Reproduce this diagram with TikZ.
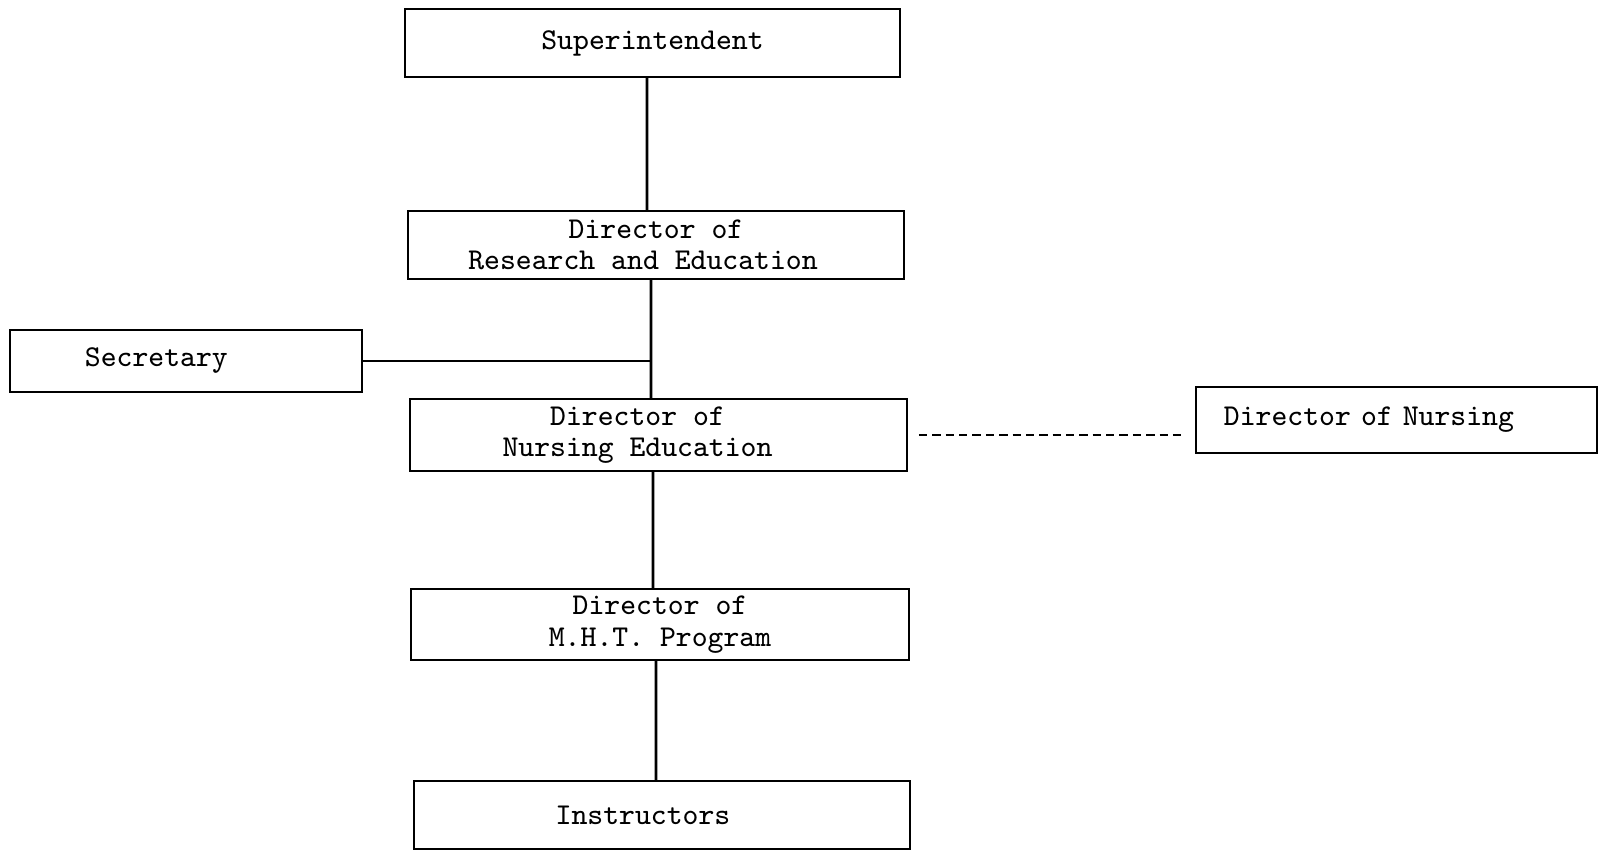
\documentclass[tikz,border=0pt]{standalone}
\usepackage{tikz}

\begin{document}
\begin{tikzpicture}[x=0.01cm,y=-0.01cm,
  box/.style={draw,line width=0.45pt,inner sep=0pt,align=center,
    font=\ttfamily\fontsize{8.6}{9}\selectfont},
  link/.style={line width=0.75pt}]
\useasboundingbox (0,0) rectangle (1604,851);
\node[box,minimum width=4.95cm,minimum height=0.68cm] (sup) at (652.5,43) {Superintendent};
\node[box,minimum width=4.96cm,minimum height=0.68cm] (res) at (656,245) {Director of\\\hspace*{-0.26cm}Research and Education};
\node[box,minimum width=3.52cm,minimum height=0.62cm,text width=2.02cm,align=left,inner xsep=0.75cm] (sec) at (186,361) {Secretary};
\node[box,minimum width=4.97cm,minimum height=0.72cm] (nur) at (658.5,435) {\hspace*{-0.42cm}Director of\\\hspace*{-0.42cm}Nursing Education};
\node[box,minimum width=4.01cm,minimum height=0.66cm,text width=3.45cm,align=left,inner xsep=0.28cm] (dnur) at (1396.5,420) {Director of Nursing};
\node[box,minimum width=4.98cm,minimum height=0.71cm] (mht) at (660,624.5) {Director of\\M.H.T. Program};
\node[box,minimum width=4.96cm,minimum height=0.68cm] (ins) at (662,815) {\hspace*{-0.38cm}Instructors};

\draw[link] ([xshift=-0.055cm]sup.south) -- ([xshift=-0.09cm]res.north);
\draw[link] ([xshift=-0.05cm]res.south) -- ([xshift=-0.075cm]nur.north);
\draw[line width=0.45pt] (sec.east) -- ([xshift=-0.05cm]sec.east -| res.south);
\draw[line width=0.6pt,dash pattern=on 2.4pt off 1.4pt] ([xshift=0.11cm]nur.east) -- ([xshift=-0.11cm]nur.east -| dnur.west);
\draw[link] ([xshift=-0.055cm]nur.south) -- ([xshift=-0.07cm]mht.north);
\draw[link] ([xshift=-0.04cm]mht.south) -- ([xshift=-0.06cm]ins.north);
\end{tikzpicture}
\end{document}
